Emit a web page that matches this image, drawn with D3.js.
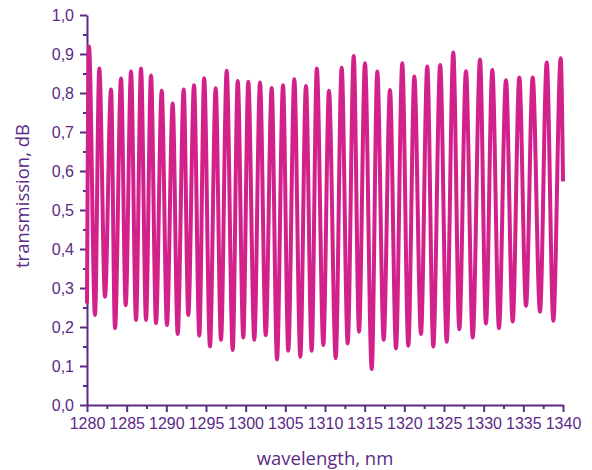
<!DOCTYPE html>
<html>
<head>
<meta charset="utf-8">
<script src="https://cdn.jsdelivr.net/npm/d3@7"></script>
<style>
  body { margin: 0; background: #fff; }
  .axis text { font-family: "Liberation Sans", Arial, sans-serif; font-size: 16px; fill: #5b2a86; }
  .axis path, .axis line { stroke: #5b2a86; stroke-width: 2px; }
  .title { font-family: "Open Sans", sans-serif; font-size: 18.5px; fill: #5b2a86; }
</style>
</head>
<body>
<div class="chart"></div>
<script>
// extrema of the transmission curve
var wavelength = [1280.00, 1280.25, 1281.01, 1281.55, 1282.27, 1283.03, 1283.53, 1284.29, 1284.88, 1285.55,
  1286.18, 1286.81, 1287.44, 1288.07, 1288.70, 1289.42, 1290.08, 1290.80, 1291.43, 1292.19,
  1292.77, 1293.49, 1294.16, 1294.77, 1295.50, 1296.22, 1296.89, 1297.61, 1298.37, 1299.00,
  1299.70, 1300.33, 1301.09, 1301.81, 1302.53, 1303.28, 1303.95, 1304.71, 1305.37, 1306.13,
  1306.89, 1307.60, 1308.32, 1308.97, 1309.79, 1310.50, 1311.35, 1312.10, 1312.86, 1313.62,
  1314.29, 1315.04, 1315.89, 1316.59, 1317.40, 1318.19, 1318.95, 1319.74, 1320.50, 1321.26,
  1322.10, 1322.89, 1323.65, 1324.52, 1325.34, 1326.17, 1326.93, 1327.77, 1328.62, 1329.54,
  1330.29, 1331.09, 1331.93, 1332.81, 1333.66, 1334.49, 1335.34, 1336.18, 1337.10, 1337.95,
  1338.78, 1339.71, 1340.00];
var transmission = [0.26, 0.919, 0.231, 0.863, 0.278, 0.809, 0.197, 0.837, 0.256, 0.855,
  0.218, 0.863, 0.218, 0.845, 0.210, 0.806, 0.205, 0.773, 0.182, 0.809,
  0.231, 0.820, 0.178, 0.838, 0.150, 0.812, 0.167, 0.857, 0.141, 0.831,
  0.173, 0.829, 0.167, 0.827, 0.179, 0.813, 0.117, 0.820, 0.139, 0.835,
  0.124, 0.818, 0.139, 0.863, 0.154, 0.806, 0.120, 0.865, 0.158, 0.895,
  0.188, 0.876, 0.092, 0.855, 0.167, 0.808, 0.145, 0.876, 0.152, 0.842,
  0.182, 0.868, 0.150, 0.872, 0.162, 0.904, 0.194, 0.856, 0.173, 0.886,
  0.209, 0.859, 0.197, 0.833, 0.214, 0.840, 0.254, 0.840, 0.239, 0.878,
  0.216, 0.889, 0.573];
var xTicks = [1280, 1285, 1290, 1295, 1300, 1305, 1310, 1315, 1320, 1325, 1330, 1335, 1340];
var yTicks = [0, 0.1, 0.2, 0.3, 0.4, 0.5, 0.6, 0.7, 0.8, 0.9, 1.0];

var data = wavelength.map(function (w, i) { return {w: w, t: transmission[i]}; });

var margin = {top: 15, right: 29, bottom: 65, left: 87},
  width = 592 - margin.left - margin.right,
  height = 470 - margin.top - margin.bottom;

var svg = d3.select(".chart").append("svg")
  .attr("width", 592)
  .attr("height", 470);
var g = svg.append("g").attr("transform", "translate(" + margin.left + "," + margin.top + ")");

var x = d3.scaleLinear().domain([1280, 1340]).range([0, width]),
  y = d3.scaleLinear().domain([0, 1]).range([height, 0]);

var fmt = function (d) { return d3.format(".1f")(d).replace(".", ","); };

// minor ticks first, majors on top
g.append("g")
  .attr("class", "axis")
  .attr("transform", "translate(0," + height + ")")
  .call(d3.axisBottom(x).tickValues(d3.range(1282.5, 1340, 5)).tickSize(4).tickFormat(""))
  .select(".domain").remove();
g.append("g")
  .attr("class", "axis")
  .call(d3.axisLeft(y).tickValues(d3.range(0.05, 1, 0.1)).tickSize(4).tickFormat(""))
  .select(".domain").remove();

g.append("g")
  .attr("class", "axis")
  .attr("transform", "translate(0," + height + ")")
  .call(d3.axisBottom(x).tickValues(xTicks).tickSize(7).tickSizeOuter(0).tickPadding(6).tickFormat(d3.format("d")));

g.append("g")
  .attr("class", "axis")
  .call(d3.axisLeft(y).tickValues(yTicks).tickSize(7).tickSizeOuter(0).tickPadding(6).tickFormat(fmt));

var line = d3.line()
  .curve(d3.curveMonotoneX)
  .x(function (d) { return x(d.w); })
  .y(function (d) { return y(d.t); });

g.append("path")
  .datum(data)
  .attr("d", line)
  .style("fill", "none")
  .style("stroke", "#d2218a")
  .style("stroke-width", 4)
  .style("stroke-linejoin", "round");

svg.append("text")
  .attr("class", "title")
  .attr("x", margin.left + width / 2)
  .attr("y", 465)
  .attr("text-anchor", "middle")
  .text("wavelength, nm");

svg.append("text")
  .attr("class", "title")
  .attr("transform", "translate(29,196) rotate(-90)")
  .attr("text-anchor", "middle")
  .text("transmission, dB");
</script>
</body>
</html>
